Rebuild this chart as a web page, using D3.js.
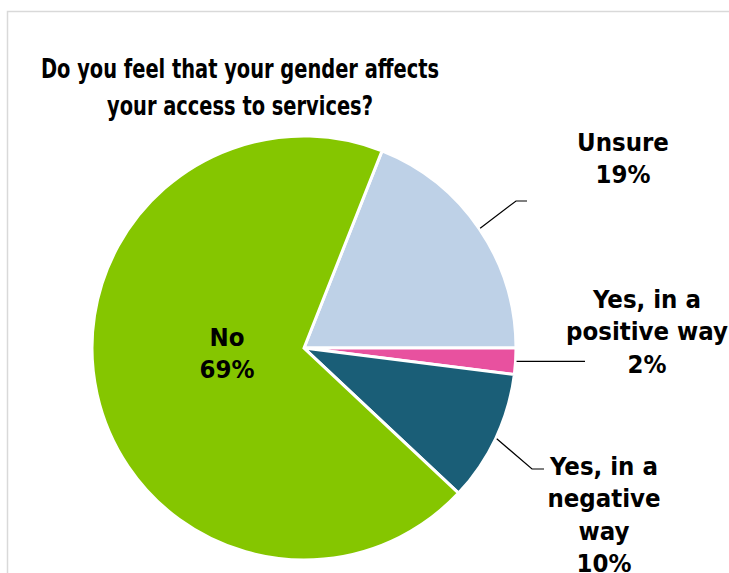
<!DOCTYPE html>
<html>
<head>
<meta charset="utf-8">
<script src="https://cdn.jsdelivr.net/npm/d3@7"></script>
<style>
  html, body { margin: 0; padding: 0; background: #fff; }
  svg { display: block; }
  text { font-family: "DejaVu Sans Condensed", "DejaVu Sans", sans-serif; font-weight: bold; fill: #000; }
</style>
</head>
<body>
<script>
// Survey answers, in drawing order (clockwise)
const categories = ["Unsure", "Yes, in a positive way", "Yes, in a negative way", "No"];
const values = [19, 2, 10, 69];
const labelLines = [
  ["Unsure", "19%"],
  ["Yes, in a", "positive way", "2%"],
  ["Yes, in a", "negative", "way", "10%"],
  ["No", "69%"]
];
const colors = ["#bed1e7", "#e8519f", "#1a5e77", "#85c600"];
const titleLines = ["Do you feel that your gender affects", "your access to services?"];

const W = 729, H = 573;
const cx = 304, cy = 348, R = 212;

const svg = d3.select("body").append("svg")
  .attr("width", W).attr("height", H);

// chart frame
svg.append("path")
  .attr("d", `M7.5,${H} V11.5 H${W}`)
  .attr("fill", "none").attr("stroke", "#d9d9d9").attr("stroke-width", 1.5);

// title, set in a condensed cut
const title = svg.append("text")
  .attr("text-anchor", "middle")
  .attr("font-size", 26.5)
  .attr("transform", "translate(240,0) scale(0.815,1)");
titleLines.forEach((t, i) => {
  title.append("tspan").attr("x", 0).attr("y", 78 + i * 37).text(t);
});

// pie: first slice starts so that "Unsure" closes on the horizontal
const startAngle = Math.PI / 2 - (values[0] / d3.sum(values)) * 2 * Math.PI;
const pie = d3.pie().sort(null).value(d => d)
  .startAngle(startAngle).endAngle(startAngle + 2 * Math.PI);
const arcs = pie(values);
const arc = d3.arc().innerRadius(0).outerRadius(R);

const g = svg.append("g").attr("transform", `translate(${cx},${cy})`);
g.selectAll("path.slice").data(arcs).join("path")
  .attr("class", "slice")
  .attr("d", arc)
  .attr("fill", (d, i) => colors[i])
  .attr("stroke", "#fff").attr("stroke-width", 3).attr("stroke-linejoin", "miter");

// label layout: text anchor point, leader elbow (relative to chart centre)
const layout = [
  { tx: 623, ty: 151, elbow: [212, -147], end: [223, -147] },
  { tx: 647, ty: 308, elbow: null, end: [281, 12] },
  { tx: 604, ty: 475, elbow: [228, 121], end: [240, 121] },
  { tx: 227, ty: 346, inside: true }
];

const lineGen = d3.line();
arcs.forEach((a, i) => {
  const L = layout[i];
  if (!L.inside) {
    const mid = (a.startAngle + a.endAngle) / 2;
    const p0 = [Math.sin(mid) * (R + 1), -Math.cos(mid) * (R + 1)];
    const pts = [p0];
    if (L.elbow) pts.push(L.elbow);
    pts.push(L.elbow ? L.end : [L.end[0], p0[1]]);
    g.append("path")
      .attr("d", lineGen(pts))
      .attr("fill", "none").attr("stroke", "#000").attr("stroke-width", 1.2);
  }
  const t = svg.append("text")
    .attr("text-anchor", "middle")
    .attr("font-size", 25.5);
  labelLines[i].forEach((s, j) => {
    t.append("tspan").attr("x", L.tx).attr("y", L.ty + j * 32.3).text(s);
  });
});
</script>
</body>
</html>
